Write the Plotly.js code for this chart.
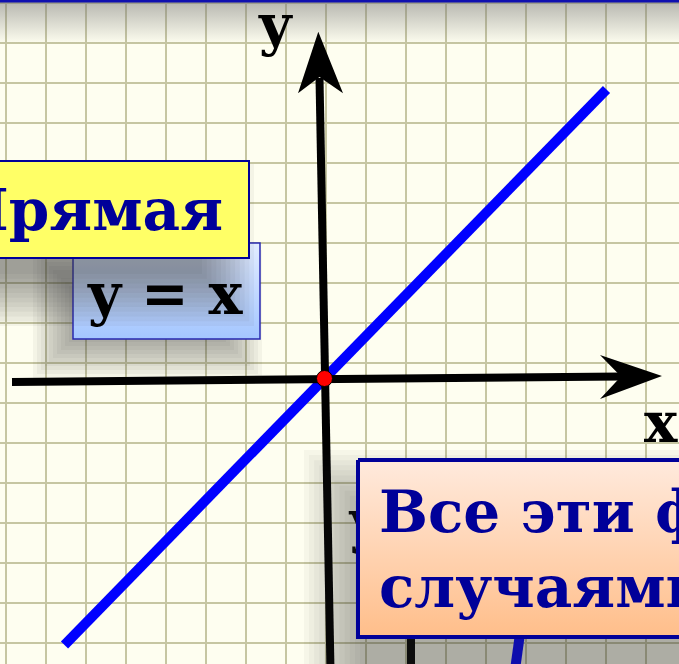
<!DOCTYPE html>
<html><head><meta charset="utf-8">
<script src="https://cdn.plot.ly/plotly-3.0.1.min.js"></script>
<style>html,body{margin:0;padding:0;background:#FEFEF0;overflow:hidden}</style>
</head><body><div id="chart" style="width:679px;height:664px"></div>
<script>
// ---------- data ----------
const lineX = [-6.5, 7.05];          // y = x
const lineY = [-6.5, 7.05];
const pointX = [0];                  // origin
const pointY = [0];
const axisLabels = ['x', 'y'];
const titleText = 'Прямая';
const formulaText = 'y = x';
const noteLines = ['Все эти функции', 'случаями линейной'];

// ---------- layout helpers (pixel -> data) ----------
const W = 679, H = 664, OX = 324.5, OY = 378.5, SX = 40, SY = 41;
const X = p => (p - OX) / SX;
const Y = p => (OY - p) / SY;
const NAVY = '#000099';
const FONT = 'DejaVu Serif';

function poly(pts, opt) {
  return Object.assign({
    x: pts.map(p => X(p[0])), y: pts.map(p => Y(p[1])),
    mode: 'lines', fill: 'toself', line: {width: 0, color: 'rgba(0,0,0,0)'},
    hoverinfo: 'skip', showlegend: false
  }, opt);
}
function rect(x0, y0, x1, y1, opt) {
  return poly([[x0,y0],[x1,y0],[x1,y1],[x0,y1],[x0,y0]], opt);
}
function shadow(x0, y0, x1, y1, blur, n, a) {
  const out = [];
  for (let i = 0; i < n; i++) {
    const d = blur - 2 * blur * i / (n - 1);
    out.push(rect(x0 - d, y0 - d, x1 + d, y1 + d, {fillcolor: `rgba(60,60,60,${a})`}));
  }
  return out;
}
function vgrad(x0, y0, x1, y1, bottom, top, border, bw) {
  return rect(x0, y0, x1, y1, {
    fillgradient: {type: 'vertical', colorscale: [[0, bottom], [1, top]]},
    line: {width: bw || 0, color: border || 'rgba(0,0,0,0)'}
  });
}

const traces = [];
// top shading band + thin blue top line
traces.push(vgrad(-5, 0, W + 5, 44, 'rgba(120,120,120,0)', 'rgba(120,120,120,0.55)'));
traces.push({x: [X(-5), X(W + 5)], y: [Y(1), Y(1)], mode: 'lines',
  line: {color: '#1010B0', width: 3}, hoverinfo: 'skip', showlegend: false});

// the line y = x
traces.push({x: lineX, y: lineY, mode: 'lines', line: {color: '#0000FF', width: 10},
  hoverinfo: 'skip', showlegend: false});

// coordinate axes with arrows
traces.push({x: [X(12), X(622)], y: [Y(382), Y(376.5)], mode: 'lines',
  line: {color: '#000', width: 8}, hoverinfo: 'skip', showlegend: false});
traces.push(poly([[662,376],[600,355],[621,376.5],[600,399],[662,376]], {fillcolor: '#000'}));
traces.push({x: [X(330.5), X(319.5)], y: [Y(670), Y(78)], mode: 'lines',
  line: {color: '#000', width: 8}, hoverinfo: 'skip', showlegend: false});
traces.push(poly([[318.3,31.7],[298,93.3],[319.5,77],[343,93.3],[318.3,31.7]], {fillcolor: '#000'}));

// origin point
traces.push({x: pointX, y: pointY, mode: 'markers',
  marker: {color: '#FF0000', size: 16, line: {color: '#000', width: 1}},
  hoverinfo: 'skip', showlegend: false});

// partly hidden elements of a further graph
traces.push({x: [X(366)], y: [Y(527)], mode: 'text', text: [axisLabels[1]],
  textposition: 'middle center',
  textfont: {family: FONT, size: 57, color: '#000', weight: 'bold'},
  hoverinfo: 'skip', showlegend: false});
traces.push({x: [X(411), X(411)], y: [Y(630), Y(670)], mode: 'lines',
  line: {color: '#000', width: 8}, hoverinfo: 'skip', showlegend: false});
traces.push({x: [X(520.5), X(515)], y: [Y(630), Y(670)], mode: 'lines',
  line: {color: '#0000FF', width: 10}, hoverinfo: 'skip', showlegend: false});

// peach note box
shadow(332, 478, 720, 700, 28, 12, 0.04).forEach(t => traces.push(t));
traces.push(vgrad(358, 460, 720, 637, '#FFBE8A', '#FFEADD', NAVY, 4));

// formula box (behind), title box (front)
shadow(55, 272, 240, 356, 22, 12, 0.05).forEach(t => traces.push(t));
traces.push(vgrad(73, 243, 260, 339, '#A4C6FF', '#E2ECFF', '#2828B0', 1.5));
shadow(-30, 190, 228, 300, 26, 12, 0.05).forEach(t => traces.push(t));
traces.push(rect(-10, 161, 249, 258, {fillcolor: '#FFFF66', line: {width: 2, color: NAVY}}));

const annotations = [
  {x: X(224), y: Y(210), xanchor: 'right', yanchor: 'middle', text: titleText,
   font: {family: FONT, size: 58, color: NAVY, weight: 'bold'}},
  {x: X(165.5), y: Y(293), xanchor: 'center', yanchor: 'middle', text: formulaText,
   font: {family: FONT, size: 57, color: '#000', weight: 'bold'}},
  {x: X(275), y: Y(25), xanchor: 'center', yanchor: 'middle', text: axisLabels[1],
   font: {family: FONT, size: 56, color: '#000', weight: 'bold'}},
  {x: X(661), y: Y(422), xanchor: 'center', yanchor: 'middle', text: axisLabels[0],
   font: {family: FONT, size: 56, color: '#000', weight: 'bold'}},
  {x: X(378), y: Y(549), xanchor: 'left', yanchor: 'middle', align: 'left',
   text: noteLines.join('<br>'),
   font: {family: FONT, size: 58, color: NAVY, weight: 'bold'}}
].map(a => Object.assign({xref: 'x', yref: 'y', showarrow: false, borderpad: 0}, a));

const layout = {
  width: W, height: H, margin: {l: 0, r: 0, t: 0, b: 0},
  paper_bgcolor: '#FEFEF0', plot_bgcolor: '#FEFEF0', showlegend: false,
  xaxis: {range: [X(0), X(W)], showgrid: true, gridcolor: '#C6C6A2', gridwidth: 2,
    tick0: X(5.5), dtick: 1, zeroline: false, showticklabels: false, ticks: '',
    showline: false, fixedrange: true},
  yaxis: {range: [Y(H), Y(0)], showgrid: true, gridcolor: '#C6C6A2', gridwidth: 2,
    tick0: Y(2.7), dtick: 40 / SY, zeroline: false, showticklabels: false, ticks: '',
    showline: false, fixedrange: true},
  annotations: annotations
};
Plotly.newPlot('chart', traces, layout, {staticPlot: true, displayModeBar: false});
</script></body></html>
